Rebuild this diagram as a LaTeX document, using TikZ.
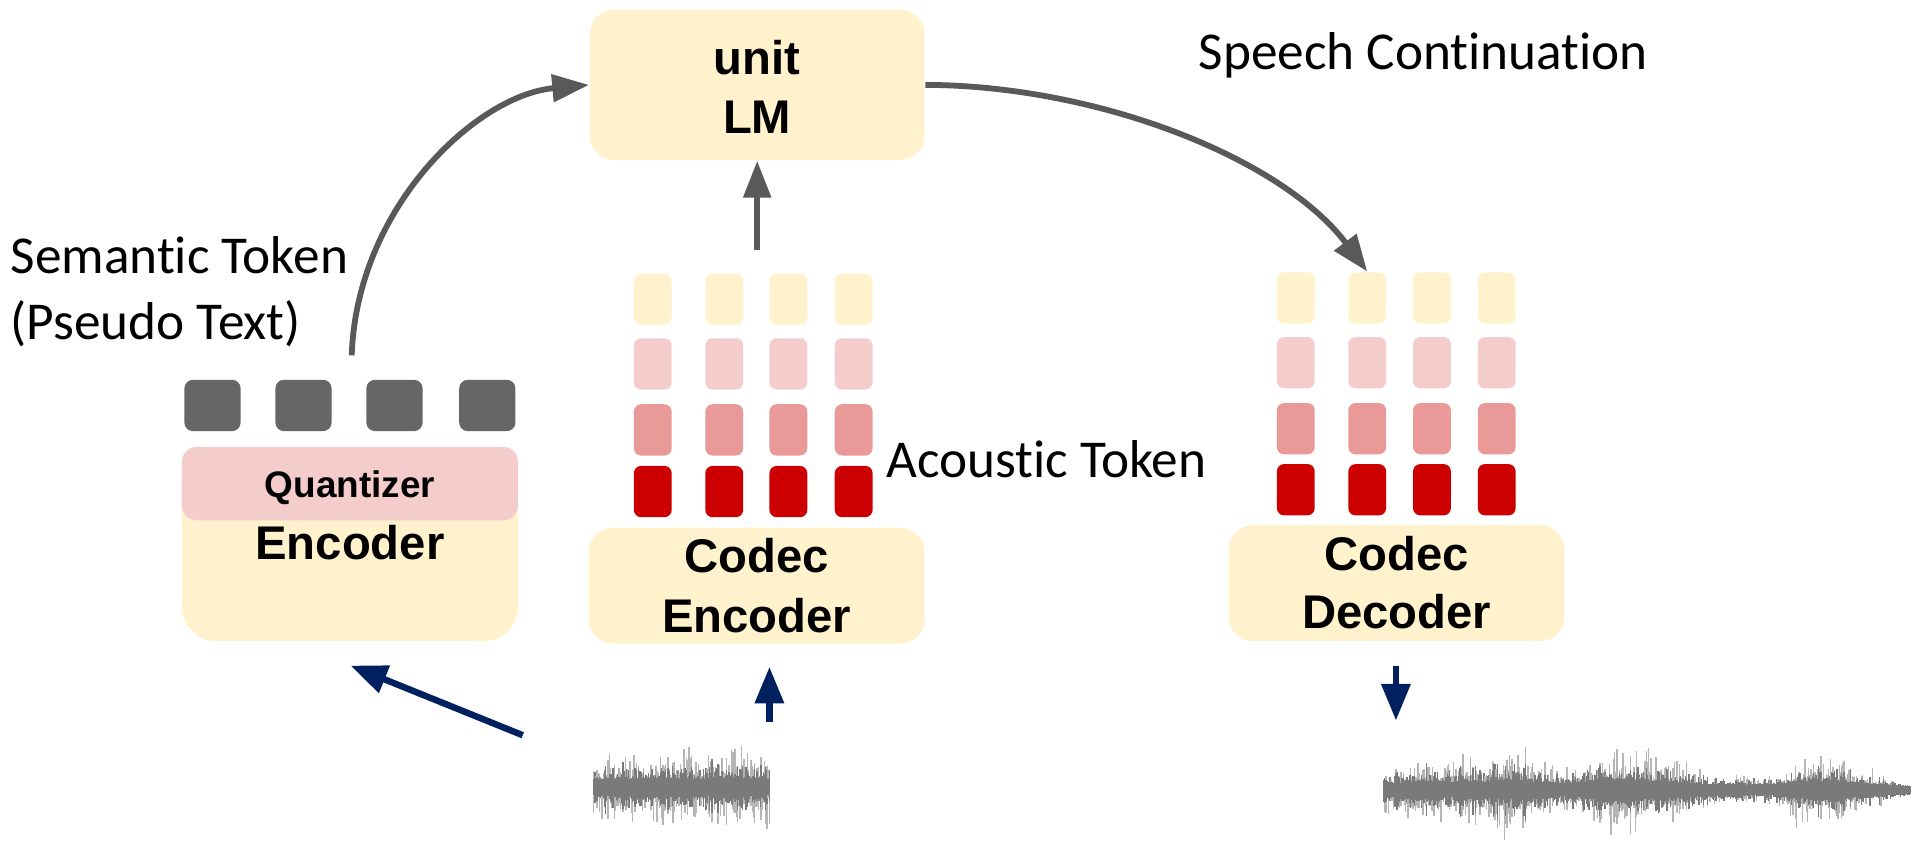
\documentclass[tikz,border=0pt]{standalone}
\usepackage{fontspec}
\setmainfont{Carlito}[RawFeature={-liga;-clig;-dlig}]
\newfontfamily\boxfont{Liberation Sans}
\usetikzlibrary{arrows.meta}

\definecolor{boxyellow}{HTML}{FFF2CC}
\definecolor{pinklight}{HTML}{F4CCCC}
\definecolor{pinkmid}{HTML}{EA9999}
\definecolor{tokred}{HTML}{CC0000}
\definecolor{tokgray}{HTML}{666666}
\definecolor{arrowgray}{HTML}{595959}
\definecolor{navy}{HTML}{002060}
\definecolor{wavelight}{HTML}{B5B5B5}
\definecolor{wavedark}{HTML}{7A7A7A}

\tikzset{
  block/.style={fill=boxyellow, draw=none, rounded corners=0.2cm, inner sep=0pt},
  token/.style={draw=none, rounded corners=0.06cm, inner sep=0pt,
    minimum width=0.31cm, minimum height=0.42cm},
  semtoken/.style={fill=tokgray, draw=none, rounded corners=0.07cm, inner sep=0pt,
    minimum width=0.46cm, minimum height=0.42cm},
  boxlabel/.style={font={\boxfont\bfseries\fontsize{11}{13}\selectfont},
    inner sep=0pt, anchor=base},
  plainlabel/.style={font={\fontsize{12.4}{14}\selectfont}, inner sep=0pt, anchor=base west},
  grayarrow/.style={draw=arrowgray, line width=1.35pt,
    -{Triangle[length=0.30cm, width=0.22cm]}},
  navyarrow/.style={draw=navy, line width=1.5pt,
    -{Triangle[length=0.30cm, width=0.23cm]}},
}

% waveform: #1 = centre line, #2 = envelope breakpoints xa/ea/xb/eb
\newcommand\drawwave[2]{%
  \foreach \xa/\ea/\xb/\eb in {#2} {
    \foreach \x in {\xa,...,\xb} {
      \pgfmathsetmacro\env{\ea+(\eb-\ea)*(\x-\xa)/(\xb-\xa)}
      \pgfmathsetmacro\ytop{#1-\env*(0.22+0.78*rnd*rnd)}
      \pgfmathsetmacro\ybot{#1+\env*(0.22+0.78*rnd*rnd)}
      \pgfmathsetmacro\core{3+\env*(0.12+0.45*rnd*rnd)}
      \pgfmathsetmacro\ctop{#1-\core}
      \pgfmathsetmacro\cbot{#1+\core*(0.8+0.4*rnd)}
      \draw[wavelight, line width=0.012cm] (\x,\ytop) -- (\x,\ybot);
      \draw[wavedark, line width=0.012cm] (\x,\ctop) -- (\x,\cbot);
    }
  }%
}

\begin{document}
\begin{tikzpicture}[x=0.01cm, y=-0.01cm]
\useasboundingbox (0,0) rectangle (1568,688);
\pgfmathsetseed{17}

% language model
\node[block, minimum width=2.74cm, minimum height=1.23cm] (lm) at (620,69.5) {};
\node[boxlabel] (lmtop) at (620,61) {unit};
\node[boxlabel] (lmbot) at (620,109) {LM};

% semantic encoder with quantizer band
\node[block, rounded corners=0.28cm, minimum width=2.75cm, minimum height=1.59cm] (semenc) at (286.5,445.5) {};
\node[fill=pinklight, rounded corners=0.12cm, inner sep=0pt,
      minimum width=2.75cm, minimum height=0.60cm] (quant) at (286.5,396) {};
\node[boxlabel, font={\boxfont\bfseries\fontsize{8.6}{10}\selectfont}] (quanttxt) at (286.5,407) {Quantizer};
\node[boxlabel] (semenctxt) at (286.5,458.5) {Encoder};

% semantic tokens
\foreach \i/\cx in {1/174,2/248.5,3/323,4/399}
  \node[semtoken] (sem\i) at (\cx,332) {};

% codec encoder and its acoustic tokens
\node[block, minimum width=2.75cm, minimum height=0.95cm] (codecenc) at (619.5,479.5) {};
\node[boxlabel] (codecenc1) at (619.5,469) {Codec};
\node[boxlabel] (codecenc2) at (619.5,517.5) {Encoder};
\foreach \c/\cx in {1/534.5,2/593,3/645.5,4/699}
  \foreach \r/\cy/\col in {1/245/boxyellow,2/298/pinklight,3/352/pinkmid,4/402.5/tokred}
    \node[token, fill=\col] (ae\r\c) at (\cx,\cy) {};

% codec decoder and its acoustic tokens
\node[block, minimum width=2.75cm, minimum height=0.95cm] (codecdec) at (1143.5,477.5) {};
\node[boxlabel] (codecdec1) at (1143.5,467) {Codec};
\node[boxlabel] (codecdec2) at (1143.5,515) {Decoder};
\foreach \c/\cx in {1/1061,2/1119.5,3/1172.5,4/1225.5}
  \foreach \r/\cy/\col in {1/244/boxyellow,2/297/pinklight,3/351/pinkmid,4/401/tokred}
    \node[token, fill=\col] (ad\r\c) at (\cx,\cy) {};

% plain labels
\node[plainlabel] (semlbl1) at (8,224) {Semantic Token};
\node[plainlabel] (semlbl2) at (8,278) {(Pseudo Text)};
\node[plainlabel] (acolbl) at (725,391) {Acoustic Token};
\node[plainlabel] (speechlbl) at (981,57) {Speech Continuation};

% gray connectors
\coordinate (semout) at (288,291);
\draw[grayarrow] (semout) .. controls (292,170) and (390,78) .. (lm.west);
\coordinate (acoout) at (620,205);
\draw[grayarrow] (acoout) -- (lm.south);
\draw[grayarrow] (lm.east) .. controls (900,70) and (1050,130) .. (ad12.north);

% audio connectors
\coordinate (wavlefttail) at (428,602);
\coordinate (semin) at (287,545);
\draw[navyarrow] (wavlefttail) -- (semin);
\coordinate (wavuptail) at (630,591);
\coordinate (codecin) at (630,546);
\draw[navyarrow] (wavuptail) -- (codecin);
\coordinate (decout) at (1143,545);
\coordinate (decwavtop) at (1143,590);
\draw[navyarrow] (decout) -- (decwavtop);

% input waveform
\drawwave{645}{486/30/500/36, 500/36/520/32, 520/32/545/38, 545/38/560/34,
  560/34/580/36, 580/36/595/42, 595/42/610/38, 610/38/630/34}

% generated waveform
\drawwave{647}{1133/22/1160/26, 1160/26/1168/36, 1168/36/1185/28, 1185/28/1200/40,
  1200/40/1215/32, 1215/32/1228/44, 1228/44/1240/48, 1240/48/1255/30,
  1255/30/1270/22, 1270/22/1290/22, 1290/22/1305/28, 1305/28/1318/48,
  1318/48/1335/38, 1335/38/1356/38, 1356/38/1375/28, 1375/28/1395/18,
  1395/18/1430/13, 1430/13/1460/14, 1460/14/1470/36, 1470/36/1490/38,
  1490/38/1510/30, 1510/30/1535/17, 1535/17/1564/1}
\end{tikzpicture}
\end{document}
